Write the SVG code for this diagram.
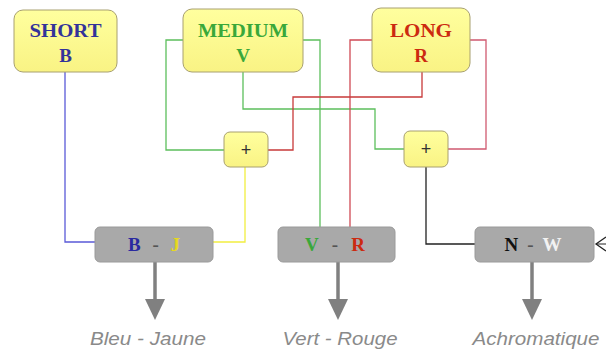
<svg xmlns="http://www.w3.org/2000/svg" width="606" height="351" viewBox="0 0 606 351">
<defs>
<linearGradient id="yg" x1="0" y1="0" x2="0" y2="1">
<stop offset="0" stop-color="#ffff9e"/>
<stop offset="1" stop-color="#f9f384"/>
</linearGradient>
</defs>
<style>
.ybox{fill:url(#yg);stroke:#a8a070;stroke-width:1}
.gbox{fill:#a9a9a9;stroke:#9a9a9a;stroke-width:1}
.lbl{font-family:"Liberation Serif",serif;font-weight:bold;text-anchor:middle}
.big{font-size:19px}
.mid{font-size:19px}
.plus{font-family:"Liberation Sans",Arial,sans-serif;font-size:18px;text-anchor:middle;fill:#333}
.out{font-family:"Liberation Sans",Arial,sans-serif;font-style:italic;font-size:18px;fill:#8a8a8a;text-anchor:middle}
.w{fill:none;stroke-width:1.3}
.arr{stroke:#808080;stroke-width:3.5;fill:none}
.head{fill:#808080}
</style>
<rect width="606" height="351" fill="#ffffff"/>
<g id="connectors">
<polyline class="w" stroke="#5a5ad8" points="65,72 65,242 96,242"/>
<polyline class="w" stroke="#5cbf5c" points="183,40 166,40 166,150 224,150"/>
<polyline class="w" stroke="#5cbf5c" points="303,40 320,40 320,227"/>
<polyline class="w" stroke="#5cbf5c" points="243,72 243,109 375,109 375,149 404,149"/>
<polyline class="w" stroke="#d04a55" points="372,40 350,40 350,227"/>
<polyline class="w" stroke="#c83a3a" points="422,72 422,97 293,97 293,150 268,150"/>
<polyline class="w" stroke="#d05a70" points="470,40 486,40 486,149 448,149"/>
<polyline class="w" stroke="#f2ee40" points="245,167 245,242 213,242"/>
<polyline class="w" stroke="#222222" points="426,167 426,244 475,244"/>
<polyline fill="none" stroke="#222222" stroke-width="1.3" points="606,237 596,244 606,251"/>
<line x1="596" y1="244" x2="606" y2="244" stroke="#222222" stroke-width="1"/>
<line class="arr" x1="155" y1="262" x2="155" y2="300"/>
<polygon class="head" points="145,299 165,299 155,320"/>
<line class="arr" x1="338" y1="262" x2="338" y2="300"/>
<polygon class="head" points="328,299 348,299 338,320"/>
<line class="arr" x1="532" y1="262" x2="532" y2="300"/>
<polygon class="head" points="522,299 542,299 532,320"/>
</g>
<g id="short">
<rect class="ybox" x="14" y="10" width="103" height="62" rx="9"/>
<text class="lbl big" x="65.5" y="37" fill="#33339a" textLength="72" lengthAdjust="spacingAndGlyphs">SHORT</text>
<text class="lbl big" x="65.5" y="62" fill="#33339a">B</text>
</g>
<g id="medium">
<rect class="ybox" x="183" y="9" width="120" height="63" rx="9"/>
<text class="lbl big" x="243" y="37" fill="#3aa83a" textLength="90" lengthAdjust="spacingAndGlyphs">MEDIUM</text>
<text class="lbl big" x="243" y="62" fill="#3aa83a">V</text>
</g>
<g id="long">
<rect class="ybox" x="372" y="8" width="98" height="64" rx="9"/>
<text class="lbl big" x="421" y="37" fill="#cc2a10" textLength="62" lengthAdjust="spacingAndGlyphs">LONG</text>
<text class="lbl big" x="421" y="62" fill="#cc2a10">R</text>
</g>
<g id="plus1">
<rect class="ybox" x="224" y="132" width="44" height="35" rx="6"/>
<text class="plus" x="246" y="156">+</text>
</g>
<g id="plus2">
<rect class="ybox" x="404" y="131" width="44" height="36" rx="6"/>
<text class="plus" x="426" y="155" fill="#555">+</text>
</g>
<g id="bj">
<rect class="gbox" x="95" y="227" width="118" height="35" rx="5"/>
<text class="lbl mid" x="154" y="251" textLength="52" lengthAdjust="spacing"><tspan fill="#2a2aa0">B</tspan><tspan fill="#555"> - </tspan><tspan fill="#e6d820">J</tspan></text>
</g>
<g id="vr">
<rect class="gbox" x="278" y="227" width="117" height="35" rx="5"/>
<text class="lbl mid" x="335" y="251" textLength="60" lengthAdjust="spacing"><tspan fill="#3aa83a">V</tspan><tspan fill="#555"> - </tspan><tspan fill="#cc2a10">R</tspan></text>
</g>
<g id="nw">
<rect class="gbox" x="475" y="227" width="119" height="35" rx="5"/>
<text class="lbl mid" x="533" y="251" textLength="57" lengthAdjust="spacing"><tspan fill="#111">N</tspan><tspan fill="#555"> - </tspan><tspan fill="#f2f2f2">W</tspan></text>
</g>
<g id="labels">
<text class="out" x="148" y="345" textLength="116" lengthAdjust="spacingAndGlyphs">Bleu - Jaune</text>
<text class="out" x="340" y="345" textLength="115" lengthAdjust="spacingAndGlyphs">Vert - Rouge</text>
<text class="out" x="536" y="345" textLength="127" lengthAdjust="spacingAndGlyphs">Achromatique</text>
</g>
</svg>
